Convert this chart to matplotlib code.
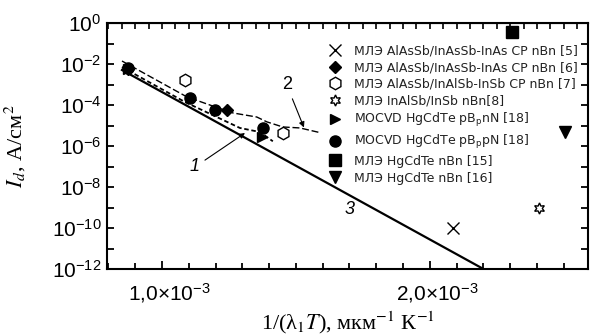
import numpy as np
import matplotlib.pyplot as plt
import matplotlib.transforms as mtransforms
from matplotlib.ticker import FixedLocator, NullFormatter

plt.rcParams['mathtext.fontset'] = 'custom'
plt.rcParams['mathtext.rm'] = 'Liberation Sans'
plt.rcParams['mathtext.it'] = 'Liberation Sans:italic'

# curves 1, 2, 3 (x in 1/(um K), y in A/cm^2)
curve1_x = [0.851e-3, 1.086e-3, 1.190e-3, 1.291e-3, 1.366e-3, 1.414e-3]
curve1_y = [7.1e-3, 1.4e-4, 3.2e-5, 7.6e-6, 4.8e-6, 1.7e-6]
curve2_x = [0.851e-3, 1.093e-3, 1.190e-3, 1.265e-3, 1.354e-3, 1.392e-3,
            1.451e-3, 1.515e-3, 1.59e-3]
curve2_y = [1.4e-2, 2.5e-4, 8.9e-5, 4.1e-5, 2.6e-5, 1.5e-5, 8.5e-6, 7.6e-6, 4.5e-6]
curve3_x = [0.851e-3, 2.2e-3]
curve3_y = [5.1e-3, 1e-12]

# experimental points
ref5_x, ref5_y = [2.086e-3], [1.0e-10]
ref6_x, ref6_y = [0.873e-3, 1.243e-3], [6.0e-3, 5.7e-5]
ref7_x, ref7_y = [1.086e-3, 1.451e-3], [1.7e-3, 4.3e-6]
ref8_x, ref8_y = [2.407e-3], [9.5e-10]
ref18n_x, ref18n_y = [0.873e-3, 1.373e-3], [5.5e-3, 2.7e-6]
ref18p_x, ref18p_y = [0.873e-3, 1.104e-3, 1.198e-3, 1.377e-3], [6.3e-3, 2.2e-4, 5.7e-5, 7.6e-6]
ref15_x, ref15_y = [2.306e-3], [0.37]
ref16_x, ref16_y = [2.504e-3], [4.9e-6]

labels = ['МЛЭ AlAsSb/InAsSb-InAs CP nBn [5]',
          'МЛЭ AlAsSb/InAsSb-InAs CP nBn [6]',
          'МЛЭ AlAsSb/InAlSb-InSb CP nBn [7]',
          'МЛЭ InAlSb/InSb nBn[8]',
          'MOCVD HgCdTe pB$_\\mathregular{p}$nN [18]',
          'MOCVD HgCdTe pB$_\\mathregular{p}$pN [18]',
          'МЛЭ HgCdTe nBn [15]',
          'МЛЭ HgCdTe nBn [16]']

fig = plt.figure(figsize=(5.92, 3.36), dpi=100)
ax = fig.add_axes([0.1807, 0.1994, 0.8125, 0.7321])

ax.plot(curve3_x, curve3_y, 'k-', lw=1.6)
ax.plot(curve1_x, curve1_y, 'k--', lw=1.3, dashes=(2.5, 1.5))
ax.plot(curve2_x, curve2_y, 'k--', lw=1.0, dashes=(5, 2))

h5, = ax.plot(ref5_x, ref5_y, 'x', color='k', ms=8, mew=1.0, ls='none')
h6, = ax.plot(ref6_x, ref6_y, 'D', color='k', ms=6, ls='none')
h7, = ax.plot(ref7_x, ref7_y, 'h', mfc='none', mec='k', ms=9, mew=1.0, ls='none')
h8, = ax.plot(ref8_x, ref8_y, marker=(6, 1, 0), mfc='none', mec='k', ms=8, mew=1.0, ls='none')
h18n, = ax.plot(ref18n_x, ref18n_y, '>', color='k', ms=7, ls='none')
h18p, = ax.plot(ref18p_x, ref18p_y, 'o', color='k', ms=8, ls='none')
h15, = ax.plot(ref15_x, ref15_y, 's', color='k', ms=8, ls='none')
h16, = ax.plot(ref16_x, ref16_y, 'v', color='k', ms=8, ls='none')

ax.set_yscale('log')
ax.set_xlim(0.795e-3, 2.59e-3)
ax.set_ylim(1e-12, 1)

# axis ticks
ax.xaxis.set_major_locator(FixedLocator([1.0e-3, 2.0e-3]))
ax.xaxis.set_minor_locator(FixedLocator(np.arange(0.8e-3, 2.6e-3, 0.1e-3)))
ax.set_xticklabels(['$1{,}0{\\times}10^{-3}$', '$2{,}0{\\times}10^{-3}$'])
ax.set_yticks([10.0 ** k for k in range(0, -13, -2)])
ax.set_yticklabels(['$10^{%d}$' % k for k in range(0, -13, -2)])
ax.yaxis.set_minor_locator(FixedLocator([10.0 ** k for k in range(-1, -12, -2)]))
ax.yaxis.set_minor_formatter(NullFormatter())

ax.tick_params(axis='both', which='both', direction='in', width=1.3, labelsize=15)
ax.tick_params(axis='x', which='major', length=6, pad=9, top=False)
ax.tick_params(axis='x', which='minor', length=4, top=False)
ax.tick_params(axis='y', which='both', length=5, pad=4, right=True)
for sp in ax.spines.values():
    sp.set_linewidth(1.5)

# x tick labels sit a little right of their ticks in the original
shift = mtransforms.ScaledTranslation(7 / 100, 0, fig.dpi_scale_trans)
for lbl in ax.get_xticklabels():
    lbl.set_transform(lbl.get_transform() + shift)

top = ax.secondary_xaxis('top')
top.set_xticks(np.arange(0.8e-3, 2.6e-3, 0.05e-3))
top.tick_params(direction='in', length=4, width=1.2, labeltop=False)
top.xaxis.set_minor_locator(FixedLocator([]))

ax.set_xlabel('1/(λ$_1$$T$), мкм$^{-1}$ К$^{-1}$', family='Liberation Serif',
              fontsize=16, math_fontfamily='stix', labelpad=3)
ax.set_ylabel('$I_d$, A/см$^2$', family='Liberation Serif', fontsize=16,
              math_fontfamily='stix')
ax.yaxis.set_label_coords(-0.165, 0.5)

# curve labels
ax.annotate('2', xy=(1.53e-3, 8e-6), xytext=(1.466e-3, 9.5e-4), fontsize=13,
            family='Liberation Sans', ha='center', va='center',
            arrowprops=dict(arrowstyle='-|>', color='k', lw=0.8, mutation_scale=8,
                            shrinkA=2, shrinkB=0))
ax.annotate('1', xy=(1.31e-3, 4.3e-6), xytext=(1.123e-3, 9.5e-8), fontsize=13,
            family='Liberation Sans', style='italic', ha='center', va='center',
            arrowprops=dict(arrowstyle='-|>', color='k', lw=0.8, mutation_scale=8,
                            shrinkA=2, shrinkB=0))
ax.text(1.701e-3, 7.6e-10, '3', fontsize=13, family='Liberation Sans',
        style='italic', ha='center', va='center')

leg = ax.legend([h5, h6, h7, h8, h18n, h18p, h15, h16], labels,
                loc='upper left', bbox_to_anchor=(0.5557, 0.868),
                bbox_transform=fig.transFigure, frameon=False, fontsize=9,
                borderpad=0, borderaxespad=0, handlelength=1.0,
                handletextpad=1.0, labelspacing=0.3)
for t in leg.get_texts():
    t.set_color('#222222')

fig.savefig('out.png', dpi=100)
